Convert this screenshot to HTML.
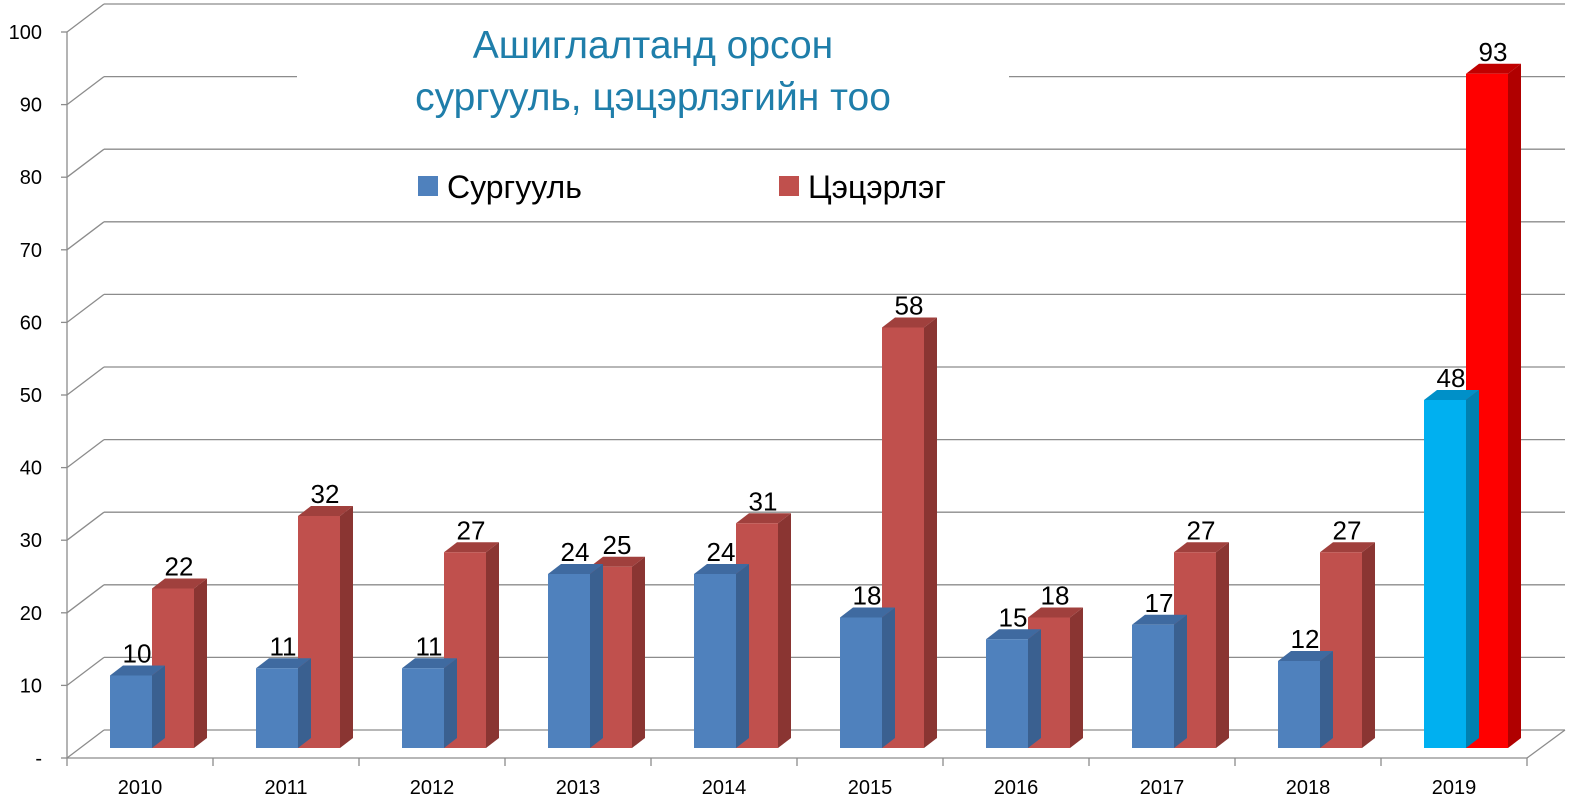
<!DOCTYPE html>
<html><head><meta charset="utf-8"><style>
html,body{margin:0;padding:0;background:#fff;}
svg{display:block;font-family:"Liberation Sans",sans-serif;}
</style></head><body>
<svg width="1591" height="810" viewBox="0 0 1591 810" xmlns="http://www.w3.org/2000/svg">
<g id="grid" stroke="#8c8c8c" stroke-width="1.3" fill="none"></g>
<g id="bars"></g>
<g id="txt"></g>
<rect x="297" y="60" width="712" height="55" fill="#fff"/>
<text x="653" y="58" font-size="39" fill="#1f7eaa" text-anchor="middle">Ашиглалтанд орсон</text>
<text x="653" y="110" font-size="39" fill="#1f7eaa" text-anchor="middle">сургууль, цэцэрлэгийн тоо</text>
<rect x="418" y="176" width="20" height="20" fill="#4f81bd"/>
<text x="447" y="198" font-size="32" fill="#000">Сургууль</text>
<rect x="779" y="176" width="20" height="20" fill="#c0504d"/>
<text x="808" y="198" font-size="32" fill="#000">Цэцэрлэг</text>
<script>
var NS="http://www.w3.org/2000/svg";
function el(p,t,a,txt){var e=document.createElementNS(NS,t);for(var k in a)e.setAttribute(k,a[k]);if(txt!==undefined)e.textContent=txt;document.getElementById(p).appendChild(e);return e;}
for(var i=0;i<=10;i++){
 var by=4+i*72.6, fy=by+28;
 if(i==1){el("grid","line",{x1:104,y1:by,x2:297,y2:by});el("grid","line",{x1:1009,y1:by,x2:1565,y2:by});}
 else el("grid","line",{x1:104,y1:by,x2:1565,y2:by});
 el("grid","line",{x1:67,y1:fy,x2:104,y2:by});
 el("grid","line",{x1:61,y1:fy,x2:67,y2:fy});
 el("txt","text",{x:42,y:fy+7,"font-size":20,"text-anchor":"end",fill:"#000"},i==10?"-":String((10-i)*10));
}
var y0=4+10*72.6+28;
el("grid","line",{x1:67,y1:32,x2:67,y2:y0});
el("grid","line",{x1:67,y1:y0,x2:1527,y2:y0});
el("grid","line",{x1:1527,y1:y0,x2:1565,y2:y0-28});
for(var c=0;c<=10;c++){var x=67+c*146;el("grid","line",{x1:x,y1:y0,x2:x,y2:y0+8});}
var S=[10,11,11,24,24,18,15,17,12,48],K=[22,32,27,25,31,58,18,27,27,93];
var B=748,sc=7.25,w=42,dx=13,dy=10;
function bar(x,v,f,s,t){
 var top=B-v*sc;
 el("bars","polygon",{points:(x+w)+","+top+" "+(x+w+dx)+","+(top-dy)+" "+(x+w+dx)+","+(B-dy)+" "+(x+w)+","+B,fill:s});
 el("bars","polygon",{points:x+","+top+" "+(x+dx)+","+(top-dy)+" "+(x+w+dx)+","+(top-dy)+" "+(x+w)+","+top,fill:t});
 el("bars","rect",{x:x,y:top,width:w,height:v*sc,fill:f});
 el("txt","text",{x:x+w/2+6,y:top-dy-3,"font-size":26,"text-anchor":"middle",fill:"#000"},String(v));
}
for(var i=0;i<10;i++){
 var bx=110+i*146;
 var last=i==9;
 bar(bx+w,K[i],last?"#ff0000":"#c0504d",last?"#b00000":"#8a3532",last?"#c00000":"#a0403d");
 bar(bx,S[i],last?"#00b0f0":"#4f81bd",last?"#0080b0":"#3a6090",last?"#0090c8":"#3f6aa0");
 el("txt","text",{x:140+i*146,y:794,"font-size":20,"text-anchor":"middle",fill:"#000"},String(2010+i));
}
</script>
</svg>
</body></html>
